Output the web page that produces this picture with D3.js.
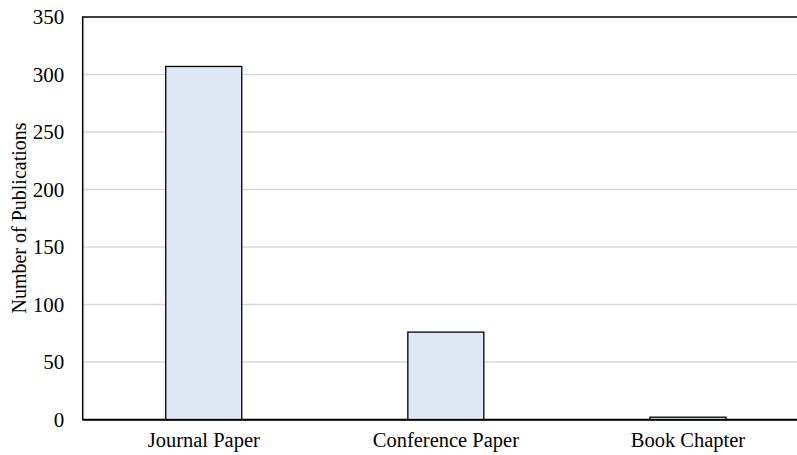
<!DOCTYPE html>
<html><head><meta charset="utf-8">
<script src="https://cdn.jsdelivr.net/npm/d3@7"></script>
<style>body{margin:0;background:#fff}svg{display:block}text{font-family:"Liberation Serif","Times New Roman",serif;fill:#000}</style>
</head><body>
<script>
const categories = ["Journal Paper", "Conference Paper", "Book Chapter"];
const values = [307, 76, 2];
const yTicks = [0, 50, 100, 150, 200, 250, 300, 350];
const yTitle = "Number of Publications";

const W = 797, H = 455;
const m = {left: 82.7, right: 809, top: 17, bottom: 419.5};
const svg = d3.select("body").append("svg").attr("width", W).attr("height", H);

const x = d3.scaleBand().domain(categories).range([m.left, m.right]).paddingInner(0.686).paddingOuter(0.343);
const y = d3.scaleLinear().domain([0, 350]).range([m.bottom, m.top]);

// grid
svg.append("g").selectAll("line").data(yTicks.filter(d => d > 0 && d < 350)).join("line")
  .attr("x1", m.left).attr("x2", m.right).attr("y1", d => y(d)).attr("y2", d => y(d))
  .attr("stroke", "#d9d9d9").attr("stroke-width", 1.5);

// frame
svg.append("rect").attr("x", m.left).attr("y", m.top).attr("width", m.right - m.left).attr("height", m.bottom - m.top)
  .attr("fill", "none").attr("stroke", "#000").attr("stroke-width", 1.5);

// bars
svg.append("g").selectAll("rect").data(values).join("rect")
  .attr("x", (d, i) => x(categories[i])).attr("width", x.bandwidth())
  .attr("y", d => y(d)).attr("height", d => y(0) - y(d))
  .attr("fill", "#dde8f4").attr("stroke", "#000").attr("stroke-width", 1.3);

// y axis
const ya = d3.axisLeft(y).tickValues(yTicks).tickSize(0).tickPadding(18.5);
const gy = svg.append("g").attr("transform", `translate(${m.left},0)`).call(ya);
gy.select(".domain").remove();
gy.selectAll("text").attr("font-size", 21).attr("font-family", "Liberation Serif").attr("fill", "#000");

// x axis
const xa = d3.axisBottom(x).tickSize(0).tickPadding(13);
const gx = svg.append("g").attr("transform", `translate(0,${m.bottom})`).call(xa);
gx.select(".domain").attr("stroke", "#000").attr("stroke-width", 1.5);
gx.selectAll("text").attr("font-size", 20.5).attr("font-family", "Liberation Serif").attr("fill", "#000");

// y title
svg.append("text").attr("transform", `translate(26,218) rotate(-90)`).attr("text-anchor", "middle")
  .attr("font-size", 20).text(yTitle);
</script>
</body></html>
